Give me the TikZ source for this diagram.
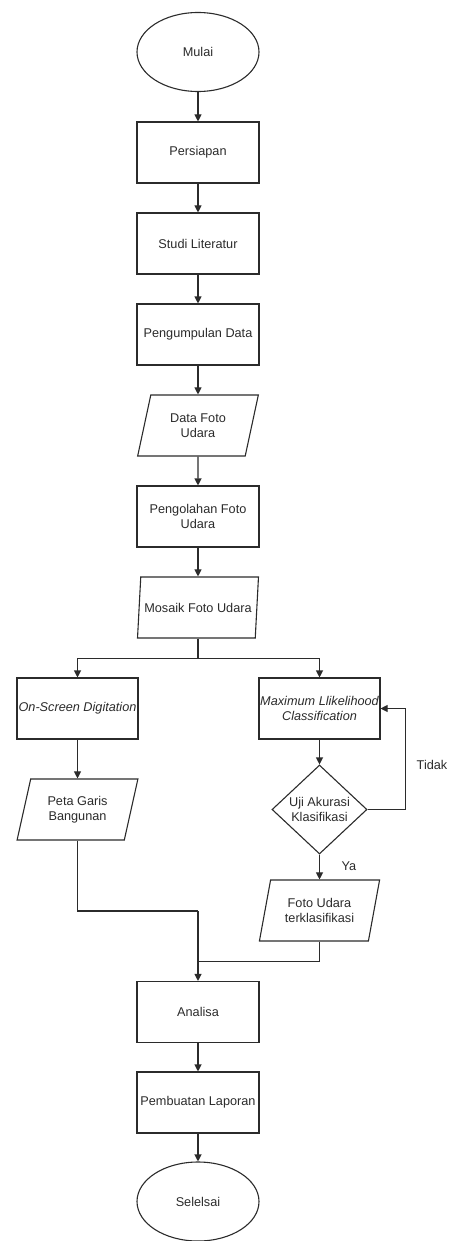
\documentclass[tikz,border=0pt]{standalone}
\usepackage{fontspec}
\setmainfont{Liberation Sans}
\usetikzlibrary{arrows.meta,shapes.geometric}
\definecolor{flowgray}{HTML}{2B2B2B}

\begin{document}
\begin{tikzpicture}[x=1pt,y=-1pt,
    every node/.style={font=\fontsize{12.7}{15}\selectfont,text=flowgray,align=center},
    proses/.style={draw=flowgray,line width=1.1pt,rectangle,minimum width=122pt,minimum height=61pt,inner sep=0pt},
    terminal/.style={draw=flowgray,line width=1.1pt,ellipse,minimum width=122pt,minimum height=79pt,inner sep=0pt},
    datanode/.style={draw=flowgray,line width=1.1pt,trapezium,trapezium left angle=72,trapezium right angle=108,
        trapezium stretches=true,minimum width=121pt,minimum height=61pt,inner sep=0pt},
    keputusan/.style={draw=flowgray,line width=1.1pt,diamond,aspect=1.07,minimum width=95pt,minimum height=89pt,inner sep=0pt},
    panah/.style={draw=flowgray,line width=1.1pt,-{Triangle[length=7pt,width=7pt]}},
    garis/.style={draw=flowgray,line width=1.1pt}]

    \useasboundingbox (0,0) rectangle (452,1241);

    % kolom utama
    \node[terminal] (mulai) at (198,52) {Mulai};
    \node[proses] (persiapan) at (198,152.5) {Persiapan};
    \node[proses] (studi) at (198,243.5) {Studi Literatur};
    \node[proses] (kumpul) at (198,334.5) {Pengumpulan Data};
    \node[datanode] (datafoto) at (198,425.5) {Data Foto\\Udara};
    \node[proses] (olah) at (198,516.5) {Pengolahan Foto\\Udara};
    \node[datanode] (mosaik) at (198,607.5) {Mosaik Foto Udara};

    % cabang kiri dan kanan
    \node[proses,minimum width=121pt] (digit) at (77.5,708.5) {\itshape On-Screen Digitation};
    \node[proses,minimum width=121pt] (mlc) at (319.5,708.5) {\itshape Maximum Llikelihood\\\itshape Classification};
    \node[datanode] (peta) at (77.5,809.5) {Peta Garis\\Bangunan};
    \node[keputusan] (uji) at (319.5,809.5) {Uji Akurasi\\Klasifikasi};
    \node[datanode] (foto) at (319.5,910.5) {Foto Udara\\terklasifikasi};
    \node (tidak) at (432,765) {Tidak};
    \node (ya) at (349,866) {Ya};

    % penutup
    \node[proses] (analisa) at (198,1012) {Analisa};
    \node[proses] (laporan) at (198,1102.5) {Pembuatan Laporan};
    \node[terminal] (selesai) at (198,1201.5) {Selelsai};
    \coordinate (gabung) at (198,911);

    \draw[panah] (mulai) -- (persiapan);
    \draw[panah] (persiapan) -- (studi);
    \draw[panah] (studi) -- (kumpul);
    \draw[panah] (kumpul) -- (datafoto);
    \draw[panah] (datafoto) -- (olah);
    \draw[panah] (olah) -- (mosaik);
    \draw[panah] (mosaik.south) -- ++(0,20) -| (digit.north);
    \draw[panah] (mosaik.south) -- ++(0,20) -| (mlc.north);
    \draw[panah] (digit) -- (peta);
    \draw[panah] (mlc) -- (uji);
    \draw[panah] (uji.east) -- ++(38,0) |- (mlc.east);
    \draw[panah] (uji) -- (foto);
    \draw[garis] (peta.south) |- (gabung);
    \draw[garis] (foto.south) -- ++(0,20) -| (gabung);
    \draw[panah] (gabung) -- (analisa);
    \draw[panah] (analisa) -- (laporan);
    \draw[panah] (laporan) -- (selesai);

\end{tikzpicture}
\end{document}
